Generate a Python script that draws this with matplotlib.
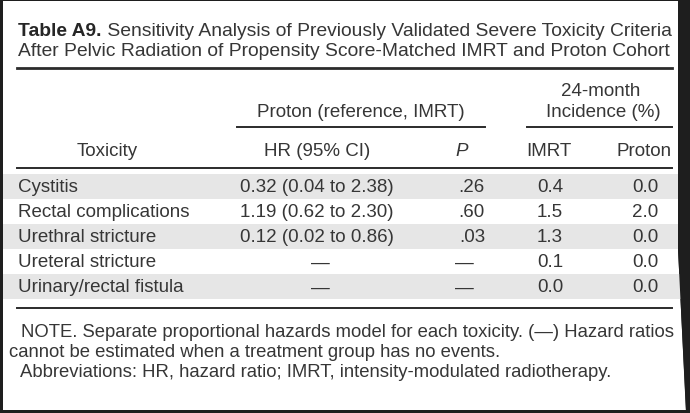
import matplotlib.pyplot as plt
from matplotlib.patches import Rectangle, Polygon

# table content
title_bold = "Table A9."
title_line1 = " Sensitivity Analysis of Previously Validated Severe Toxicity Criteria"
title_line2 = "After Pelvic Radiation of Propensity Score-Matched IMRT and Proton Cohort"

toxicity = ["Cystitis", "Rectal complications", "Urethral stricture",
            "Ureteral stricture", "Urinary/rectal fistula"]
hr_ci = ["0.32 (0.04 to 2.38)", "1.19 (0.62 to 2.30)", "0.12 (0.02 to 0.86)",
         "\u2014", "\u2014"]
p_vals = [".26", ".60", ".03", "\u2014", "\u2014"]
inc_imrt = [0.4, 1.5, 1.3, 0.1, 0.0]
inc_proton = [0.0, 2.0, 0.0, 0.0, 0.0]

notes = [
    (21, "NOTE. Separate proportional hazards model for each toxicity. (\u2014) Hazard ratios"),
    (9, "cannot be estimated when a treatment group has no events."),
    (20, "Abbreviations: HR, hazard ratio; IMRT, intensity-modulated radiotherapy."),
]

FONT = ['Liberation Sans Narrow', 'Liberation Sans', 'DejaVu Sans']
TXT = '#363636'
plt.rcParams['font.family'] = FONT

fig = plt.figure(figsize=(6.9, 4.14), dpi=100)
fig.patch.set_facecolor('#1e1e1e')
ax = fig.add_axes([0, 0, 1, 1])
ax.set_xlim(0, 690)
ax.set_ylim(414, 0)
ax.axis('off')

# white page inside the dark frame (frame is a bit wider at top right)
ax.add_patch(Polygon([(3, 2), (678, 2), (678, 250), (686, 411), (3, 411)],
                     closed=True, facecolor='white', edgecolor='none'))

# title
tfs = 13.9
t = ax.text(18, 31, title_bold, fontsize=tfs, fontweight='bold', color='#262626',
            va='center', ha='left')
fig.canvas.draw()
bb = t.get_window_extent().transformed(ax.transData.inverted())
ax.text(bb.x1, 31, title_line1, fontsize=tfs, color=TXT, va='center', ha='left')
ax.text(18, 52, title_line2, fontsize=tfs, color=TXT, va='center', ha='left')

# rules
ax.plot([17, 672], [69, 69], color='#2b2b2b', lw=2.0)
ax.plot([237, 485], [128, 128], color='#2b2b2b', lw=1.4)
ax.plot([527, 672], [128, 128], color='#2b2b2b', lw=1.4)
ax.plot([17, 672], [169, 169], color='#2b2b2b', lw=1.4)
ax.plot([17, 672], [309, 309], color='#2b2b2b', lw=1.4)

# group headers
fs = 13.5
ax.text(361, 113, "Proton (reference, IMRT)", fontsize=fs, color=TXT, ha='center', va='center')
ax.text(601, 92, "24-month", fontsize=fs, color=TXT, ha='center', va='center')
ax.text(603, 113, "Incidence (%)", fontsize=fs, color=TXT, ha='center', va='center')

# column headers
ax.text(107, 152, "Toxicity", fontsize=fs, color=TXT, ha='center', va='center')
ax.text(317, 152, "HR (95% CI)", fontsize=fs, color=TXT, ha='center', va='center')
ax.text(462, 152, "P", fontsize=fs, color=TXT, ha='center', va='center', style='italic')
ax.text(549, 152, "IMRT", fontsize=fs, color=TXT, ha='center', va='center')
ax.text(644, 152, "Proton", fontsize=fs, color=TXT, ha='center', va='center')

# body rows
row0 = 188
step = 25
for i, name in enumerate(toxicity):
    y = row0 + i * step
    if i % 2 == 0:
        ax.add_patch(Rectangle((3, y - 13), 680, 25, facecolor='#e6e6e6', edgecolor='none'))
    ax.text(18, y, name, fontsize=fs, color=TXT, ha='left', va='center')
    ax.text(317 if hr_ci[i] != "\u2014" else 320, y, hr_ci[i], fontsize=fs, color=TXT,
            ha='center', va='center')
    if p_vals[i] == "\u2014":
        ax.text(464, y, p_vals[i], fontsize=fs, color=TXT, ha='center', va='center')
    else:
        ax.text(485, y, p_vals[i], fontsize=fs, color=TXT, ha='right', va='center')
    ax.text(550, y, f"{inc_imrt[i]:.1f}", fontsize=fs, color=TXT, ha='center', va='center')
    ax.text(645, y, f"{inc_proton[i]:.1f}", fontsize=fs, color=TXT, ha='center', va='center')

# redraw frame edge over the shading on the right
ax.add_patch(Polygon([(678, 0), (690, 0), (690, 414), (686, 414), (678, 250)],
                     closed=True, facecolor='#1e1e1e', edgecolor='none'))

# footnotes
for k, (x, line) in enumerate(notes):
    ax.text(x, 333 + k * 20, line, fontsize=13.3, color=TXT, ha='left', va='center')

fig.savefig('out.png', dpi=100, facecolor=fig.get_facecolor())
